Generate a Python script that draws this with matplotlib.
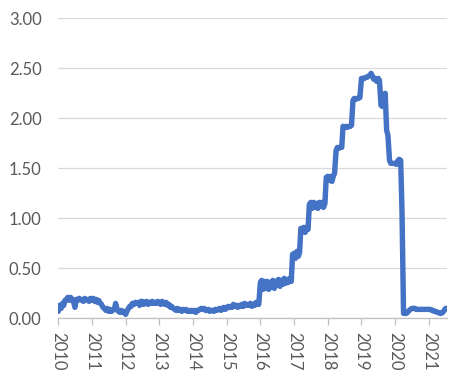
import matplotlib
matplotlib.use("Agg")
import matplotlib.pyplot as plt
import matplotlib.dates as mdates
import pandas as pd

# Semi-monthly readings (1st and 15th of each month), Jan 2010 - Jul 2021
rate_2010 = [0.07, 0.13, 0.10, 0.15, 0.13, 0.18, 0.19, 0.21, 0.18, 0.21, 0.19, 0.17,
             0.11, 0.19, 0.18, 0.20, 0.19, 0.18, 0.17, 0.20, 0.19, 0.18, 0.17, 0.20]
rate_2011 = [0.18, 0.20, 0.17, 0.19, 0.16, 0.18, 0.15, 0.14, 0.11, 0.10, 0.08, 0.10,
             0.07, 0.09, 0.07, 0.08, 0.09, 0.15, 0.09, 0.07, 0.06, 0.08, 0.06, 0.07]
rate_2012 = [0.04, 0.07, 0.10, 0.12, 0.12, 0.15, 0.14, 0.16, 0.15, 0.16, 0.13, 0.17,
             0.17, 0.14, 0.16, 0.17, 0.14, 0.16, 0.15, 0.17, 0.15, 0.16, 0.15, 0.17]
rate_2013 = [0.16, 0.14, 0.17, 0.15, 0.14, 0.16, 0.13, 0.14, 0.11, 0.12, 0.10, 0.09,
             0.08, 0.10, 0.08, 0.09, 0.07, 0.09, 0.08, 0.09, 0.07, 0.08, 0.07, 0.08]
rate_2014 = [0.07, 0.08, 0.06, 0.08, 0.08, 0.09, 0.10, 0.09, 0.10, 0.08, 0.08, 0.09,
             0.07, 0.08, 0.08, 0.07, 0.09, 0.08, 0.09, 0.10, 0.08, 0.10, 0.11, 0.09]
rate_2015 = [0.10, 0.12, 0.11, 0.12, 0.11, 0.14, 0.12, 0.13, 0.11, 0.13, 0.12, 0.14,
             0.12, 0.15, 0.13, 0.14, 0.13, 0.15, 0.12, 0.14, 0.13, 0.16, 0.14, 0.14]
rate_2016 = [0.36, 0.38, 0.29, 0.37, 0.30, 0.37, 0.29, 0.36, 0.31, 0.38, 0.30, 0.37,
             0.33, 0.39, 0.32, 0.38, 0.34, 0.40, 0.35, 0.39, 0.36, 0.40, 0.37, 0.64]
rate_2017 = [0.65, 0.60, 0.67, 0.62, 0.66, 0.90, 0.87, 0.91, 0.86, 0.91, 0.89, 1.14,
             1.16, 1.10, 1.16, 1.11, 1.15, 1.10, 1.16, 1.12, 1.16, 1.11, 1.15, 1.41]
rate_2018 = [1.42, 1.38, 1.42, 1.37, 1.42, 1.45, 1.68, 1.71, 1.70, 1.71, 1.71, 1.92,
             1.91, 1.92, 1.91, 1.92, 1.92, 1.93, 2.18, 2.20, 2.19, 2.20, 2.20, 2.21]
rate_2019 = [2.40, 2.40, 2.40, 2.41, 2.41, 2.42, 2.43, 2.45, 2.42, 2.39, 2.40, 2.37,
             2.40, 2.38, 2.13, 2.12, 2.13, 2.25, 1.88, 1.83, 1.58, 1.55, 1.55, 1.55]
rate_2020 = [1.55, 1.54, 1.58, 1.59, 1.58, 1.09, 0.05, 0.05, 0.05, 0.06, 0.08, 0.09,
             0.10, 0.10, 0.10, 0.09, 0.09, 0.09, 0.09, 0.09, 0.09, 0.09, 0.09, 0.09]
rate_2021 = [0.09, 0.09, 0.08, 0.08, 0.07, 0.07, 0.06, 0.06, 0.05, 0.05, 0.06, 0.08,
             0.10, 0.10]

rates = (rate_2010 + rate_2011 + rate_2012 + rate_2013 + rate_2014 + rate_2015 +
         rate_2016 + rate_2017 + rate_2018 + rate_2019 + rate_2020 + rate_2021)
dates = pd.date_range("2010-01-01", periods=len(rates), freq="SMS")

y_ticks = [0.0, 0.5, 1.0, 1.5, 2.0, 2.5, 3.0]

plt.rcParams['font.family'] = ['Lato', 'DejaVu Sans']
TXT = "#595959"

fig = plt.figure(figsize=(4.66, 3.75), dpi=100)
ax = fig.add_axes([0.125, 0.151, 0.834, 0.80])

ax.plot(dates, rates, color="#4472C4", lw=3.9, solid_joinstyle="round",
        solid_capstyle="round", zorder=3)

ax.set_ylim(0, 3.0)
ax.set_yticks(y_ticks)
ax.set_yticklabels([f"{v:.2f}" for v in y_ticks])
ax.set_xlim(pd.Timestamp("2010-01-01"), pd.Timestamp("2021-07-15"))
ax.xaxis.set_major_locator(mdates.YearLocator())
ax.xaxis.set_major_formatter(mdates.DateFormatter("%Y"))

ax.grid(axis="y", color="#d9d9d9", lw=0.9)
ax.set_axisbelow(True)
for s in ["top", "right", "left"]:
    ax.spines[s].set_visible(False)
ax.spines["bottom"].set_color("#bfbfbf")
ax.spines["bottom"].set_linewidth(0.9)

ax.tick_params(axis="y", length=0, pad=12, labelsize=12, labelcolor=TXT)
ax.tick_params(axis="x", length=5, width=0.9, color="#bfbfbf", pad=5,
               labelsize=12, labelcolor=TXT, labelrotation=270)

fig.savefig("out.png", dpi=100)
